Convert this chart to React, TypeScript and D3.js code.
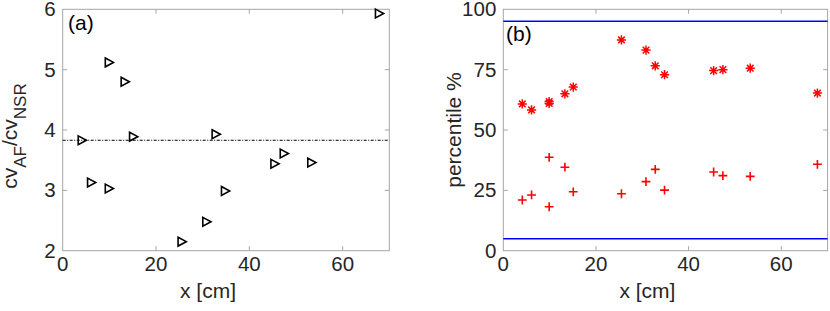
import React, { useEffect, useRef } from 'react';
import * as d3 from 'd3';

// positions along the catheter (cm), shared by both panels
const xPos = [4.1, 6.1, 9.9, 9.9, 13.3, 15.1, 25.5, 30.8, 32.8, 34.8, 45.4, 47.4, 53.3, 67.8];
// panel (a): cv_AF / cv_NSR
const cvRatio = [3.83, 3.13, 3.03, 5.12, 4.8, 3.89, 2.15, 2.48, 3.93, 2.99, 3.44, 3.61, 3.46, 5.93];
const refRatio = 3.83;
// panel (b): percentiles
const pctHigh = [60.8, 58.3, 61.0, 61.8, 65.0, 67.8, 87.3, 83.1, 76.6, 72.9, 74.6, 75.0, 75.6, 65.3];
const pctLow = [21.0, 23.1, 18.2, 38.7, 34.6, 24.4, 23.6, 28.6, 33.7, 25.1, 32.6, 31.1, 30.8, 35.8];
const pctBounds = [5, 95];

const xTicks = [0, 20, 40, 60];
const ratioTicks = [2, 3, 4, 5, 6];
const pctTicks = [0, 25, 50, 75, 100];

const FONT = '"Liberation Sans", Arial, Helvetica, sans-serif';
const BOX = '#a6a6a6';
const TXT = '#262626';

export default function App() {
  const svgRef = useRef<SVGSVGElement>(null);

  useEffect(() => {
    if (!svgRef.current) return;
    const svg = d3.select(svgRef.current);
    svg.selectAll('*').remove();

    const top = 9.3, bottom = 250.7;

    function drawFrame(g: any, x: any, y: any, yTicks: number[]) {
      const [x0, x1] = x.range();
      const [y0, y1] = y.range(); // y0 bottom, y1 top
      g.append('rect').attr('x', x0).attr('y', y1).attr('width', x1 - x0).attr('height', y0 - y1)
        .attr('fill', 'none').attr('stroke', BOX).attr('stroke-width', 1);
      const tl = 4.5;
      xTicks.forEach(t => {
        if (t === 0) return;
        g.append('line').attr('x1', x(t)).attr('x2', x(t)).attr('y1', y0).attr('y2', y0 - tl).attr('stroke', BOX);
        g.append('line').attr('x1', x(t)).attr('x2', x(t)).attr('y1', y1).attr('y2', y1 + tl).attr('stroke', BOX);
      });
      yTicks.forEach((t, i) => {
        if (i === 0 || i === yTicks.length - 1) return;
        g.append('line').attr('x1', x0).attr('x2', x0 + tl).attr('y1', y(t)).attr('y2', y(t)).attr('stroke', BOX);
        g.append('line').attr('x1', x1).attr('x2', x1 - tl).attr('y1', y(t)).attr('y2', y(t)).attr('stroke', BOX);
      });
      xTicks.forEach(t => {
        g.append('text').attr('x', x(t)).attr('y', 271).attr('text-anchor', 'middle')
          .attr('font-size', 20.5).attr('fill', TXT).attr('font-family', FONT).text(t);
      });
      yTicks.forEach(t => {
        g.append('text').attr('x', x0 - 7).attr('y', y(t) + 7).attr('text-anchor', 'end')
          .attr('font-size', 20.5).attr('fill', TXT).attr('font-family', FONT).text(t);
      });
      g.append('text').attr('x', (x0 + x1) / 2 - 18).attr('y', 298).attr('text-anchor', 'middle')
        .attr('font-size', 21).attr('fill', TXT).attr('font-family', FONT).text('x [cm]');
    }

    // ---- panel (a)
    const xa = d3.scaleLinear().domain([0, 70]).range([62.7, 389.3]);
    const ya = d3.scaleLinear().domain([2, 6]).range([bottom, top]);
    const ga = svg.append('g');
    drawFrame(ga, xa, ya, ratioTicks);

    ga.append('line').attr('x1', xa(0)).attr('x2', xa(70)).attr('y1', ya(refRatio)).attr('y2', ya(refRatio))
      .attr('stroke', '#000').attr('stroke-width', 1.1).attr('stroke-dasharray', '3,1.5,1,1.5');

    ga.selectAll('.tri').data(xPos.map((x, i) => ({ x, y: cvRatio[i] })))
      .enter().append('path').attr('class', 'tri')
      .attr('transform', (d: any) => `translate(${xa(d.x)},${ya(d.y)})`)
      .attr('d', 'M-3.6,-4.4 L4.6,0 L-3.6,4.4 Z')
      .attr('fill', 'none').attr('stroke', '#000').attr('stroke-width', 1.6);

    ga.append('text').attr('x', 68).attr('y', 30).attr('font-size', 21).attr('fill', '#000')
      .attr('font-family', FONT).text('(a)');

    const yl = ga.append('text').attr('transform', `translate(17,${(top + bottom) / 2 + 6}) rotate(-90)`)
      .attr('text-anchor', 'middle').attr('font-size', 21).attr('fill', TXT).attr('font-family', FONT);
    yl.append('tspan').text('cv');
    yl.append('tspan').attr('dy', 9).attr('font-size', 17).text('AF');
    yl.append('tspan').attr('dy', -9).text('/cv');
    yl.append('tspan').attr('dy', 9).attr('font-size', 17).text('NSR');

    // ---- panel (b)
    const xb = d3.scaleLinear().domain([0, 70]).range([503.3, 827.6]);
    const yb = d3.scaleLinear().domain([0, 100]).range([bottom, top]);
    const gb = svg.append('g');
    drawFrame(gb, xb, yb, pctTicks);

    pctBounds.forEach(b => {
      gb.append('line').attr('x1', xb(0)).attr('x2', xb(70)).attr('y1', yb(b)).attr('y2', yb(b))
        .attr('stroke', '#0000ff').attr('stroke-width', 1.5);
    });

    const r = 4.6;
    const k = r * 0.72;
    const star = `M${-r},0H${r}M0,${-r}V${r}M${-k},${-k}L${k},${k}M${-k},${k}L${k},${-k}`;
    gb.selectAll('.star').data(xPos.map((x, i) => ({ x, y: pctHigh[i] })))
      .enter().append('path').attr('class', 'star')
      .attr('transform', (d: any) => `translate(${xb(d.x)},${yb(d.y)})`)
      .attr('d', star).attr('fill', 'none').attr('stroke', '#ff0000').attr('stroke-width', 1.5);

    const p = 4.4;
    gb.selectAll('.plus').data(xPos.map((x, i) => ({ x, y: pctLow[i] })))
      .enter().append('path').attr('class', 'plus')
      .attr('transform', (d: any) => `translate(${xb(d.x)},${yb(d.y)})`)
      .attr('d', `M${-p},0H${p}M0,${-p}V${p}`).attr('fill', 'none').attr('stroke', '#ff0000').attr('stroke-width', 1.6);

    gb.append('text').attr('x', 506).attr('y', 41).attr('font-size', 21).attr('fill', '#000')
      .attr('font-family', FONT).text('(b)');

    gb.append('text').attr('transform', `translate(461,${(top + bottom) / 2}) rotate(-90)`)
      .attr('text-anchor', 'middle').attr('font-size', 21).attr('fill', TXT).attr('font-family', FONT)
      .text('percentile %');
  }, []);

  return (
    <svg ref={svgRef} width={830} height={311} viewBox="0 0 830 311"
      style={{ position: 'absolute', left: 0, top: 0, background: '#fff' }}></svg>
  );
}
